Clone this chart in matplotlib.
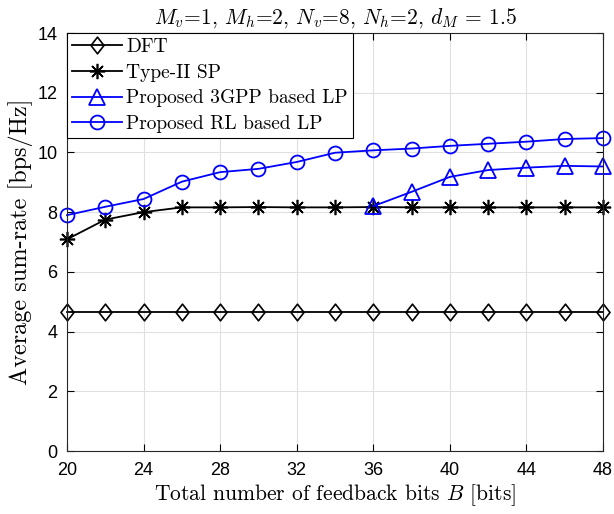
import numpy as np
import matplotlib
matplotlib.use('Agg')
import matplotlib.pyplot as plt
from matplotlib.path import Path

plt.rcParams['mathtext.fontset'] = 'cm'
plt.rcParams['axes.unicode_minus'] = False

# Data
bits = [20, 22, 24, 26, 28, 30, 32, 34, 36, 38, 40, 42, 44, 46, 48]
dft = [4.67] * 15
type2_sp = [7.09, 7.75, 8.0, 8.16, 8.16, 8.17, 8.16, 8.16, 8.17, 8.16, 8.16, 8.16, 8.16, 8.16, 8.16]
bits_3gpp = [36, 38, 40, 42, 44, 46, 48]
lp_3gpp = [8.2, 8.68, 9.18, 9.41, 9.49, 9.55, 9.53]
lp_rl = [7.9, 8.18, 8.44, 9.02, 9.34, 9.45, 9.68, 9.99, 10.07, 10.13, 10.22, 10.29, 10.36, 10.45, 10.48]

# MATLAB-like diamond (slightly taller than wide)
diamond = Path([(0, 1), (0.78, 0), (0, -1), (-0.78, 0), (0, 1)],
               [Path.MOVETO, Path.LINETO, Path.LINETO, Path.LINETO, Path.CLOSEPOLY])

fig = plt.figure(figsize=(6.14, 5.14), dpi=100)
ax = fig.add_axes([67 / 614, 1 - 451 / 514, (603 - 67) / 614, (451 - 33) / 514])

lw = 1.3
ax.plot(bits, dft, color='black', lw=lw, marker=diamond, ms=12,
        mfc='none', mec='black', mew=1.2, label='DFT', clip_on=False)
ax.plot(bits, type2_sp, color='black', lw=lw, marker=(8, 2, 0), ms=11,
        mec='black', mew=1.2, label='Type-II SP', clip_on=False)
ax.plot(bits_3gpp, lp_3gpp, color='#0000ff', lw=lw, marker='^', ms=11,
        mfc='none', mec='#0000ff', mew=1.3, label='Proposed 3GPP based LP', clip_on=False)
ax.plot(bits, lp_rl, color='#0000ff', lw=lw, marker='o', ms=10,
        mfc='none', mec='#0000ff', mew=1.3, label='Proposed RL based LP', clip_on=False)

ax.set_xlim(20, 48)
ax.set_ylim(0, 14)
ax.set_xticks(np.arange(20, 49, 4))
ax.set_yticks(np.arange(0, 15, 2))
ax.tick_params(direction='in', top=True, right=True, length=5, width=0.8,
               labelsize=13)
ax.tick_params(axis='x', pad=8)
ax.tick_params(axis='y', pad=7)
for lab in ax.get_xticklabels() + ax.get_yticklabels():
    lab.set_fontfamily('Liberation Sans')
ax.grid(True, color='#e0e0e0', lw=0.8)
ax.set_axisbelow(True)
for sp in ax.spines.values():
    sp.set_linewidth(0.8)
    sp.set_color('#262626')

ax.set_xlabel('Total number of feedback bits $B$ [bits]', fontfamily='cmr10', fontsize=15.5, labelpad=2)
ax.set_ylabel('Average sum-rate [bps/Hz]', fontfamily='cmr10', fontsize=17.5, labelpad=3)
ax.set_title('$M_v$=1, $M_h$=2, $N_v$=8, $N_h$=2, $d_M$ = 1.5', fontfamily='cmr10', fontsize=15.5, pad=7)

leg = ax.legend(loc='upper left', borderaxespad=0, prop={'family': 'cmr10', 'size': 14},
                handlelength=2.6, handletextpad=0.2, labelspacing=0.4,
                borderpad=0.25, fancybox=False, framealpha=1, edgecolor='black')
leg.get_frame().set_linewidth(0.8)

fig.savefig('out.png', dpi=100)
